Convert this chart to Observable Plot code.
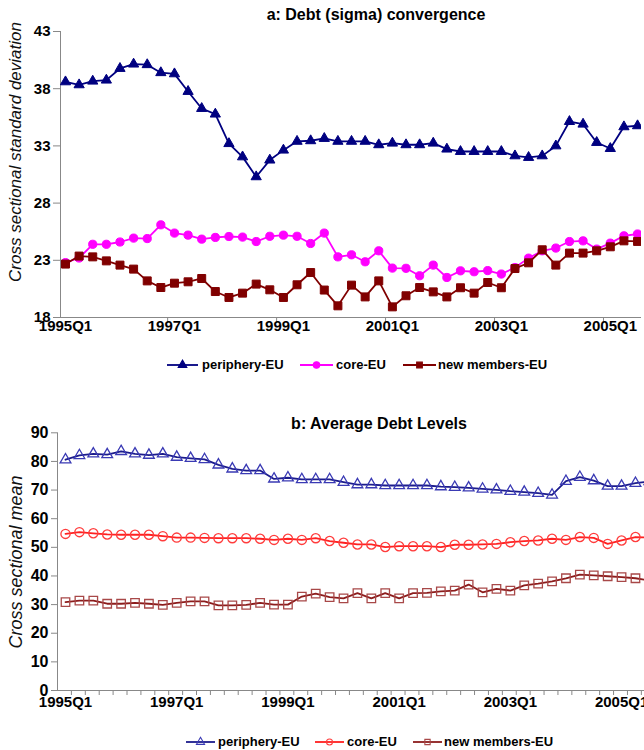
<!DOCTYPE html>
<html>
<head>
<meta charset="utf-8">
<script src="https://cdn.jsdelivr.net/npm/d3@7"></script>
<script src="https://cdn.jsdelivr.net/npm/@observablehq/plot@0.6"></script>
<style>
  html, body { margin: 0; padding: 0; background: #fff; }
  #wrap { position: relative; width: 644px; height: 750px; overflow: hidden; font-family: "Liberation Sans", Arial, sans-serif; }
  .panel { position: absolute; left: 0; }
  .title { position: absolute; font-weight: bold; font-size: 16px; color: #000; white-space: nowrap; transform: translateX(-50%); }
  .ylab { position: absolute; font-style: italic; color: #111; white-space: nowrap; transform: translate(-50%, -50%) rotate(-90deg); }
  .leg { position: absolute; font-weight: bold; font-size: 13px; color: #000; white-space: nowrap; }
</style>
</head>
<body>
<div id="wrap"></div>
<script>
// ---------- data ----------
const quarters = [
  "1995Q1","1995Q2","1995Q3","1995Q4","1996Q1","1996Q2","1996Q3","1996Q4",
  "1997Q1","1997Q2","1997Q3","1997Q4","1998Q1","1998Q2","1998Q3","1998Q4",
  "1999Q1","1999Q2","1999Q3","1999Q4","2000Q1","2000Q2","2000Q3","2000Q4",
  "2001Q1","2001Q2","2001Q3","2001Q4","2002Q1","2002Q2","2002Q3","2002Q4",
  "2003Q1","2003Q2","2003Q3","2003Q4","2004Q1","2004Q2","2004Q3","2004Q4",
  "2005Q1","2005Q2","2005Q3"
];
const seriesNames = ["periphery-EU", "core-EU", "new members-EU"];
const xTickLabels = ["1995Q1","1997Q1","1999Q1","2001Q1","2003Q1","2005Q1"];
const sigmaTicks = [18, 23, 28, 33, 38, 43];
const meanTicks = [0, 10, 20, 30, 40, 50, 60, 70, 80, 90];

// a: cross sectional standard deviation
const sigmaPeriphery = [38.6,38.34,38.66,38.75,39.77,40.15,40.1,39.4,39.3,37.76,36.27,35.78,33.2,32.04,30.3,31.76,32.63,33.4,33.45,33.65,
  33.4,33.4,33.4,33.1,33.24,33.1,33.1,33.24,32.72,32.51,32.51,32.51,32.51,32.13,31.99,32.13,33.0,35.13,34.9,33.3,32.77,34.67,34.76];
const sigmaCore = [22.8,23.2,24.4,24.4,24.6,24.94,24.9,26.1,25.38,25.2,24.85,25.0,25.08,25.03,24.64,25.1,25.2,25.1,24.47,25.38,
  23.3,23.48,22.87,23.83,22.32,22.3,21.65,22.58,21.5,22.08,22.0,22.1,21.8,22.37,23.19,23.83,24.07,24.64,24.7,23.98,24.5,25.14,25.3];
const sigmaNew = [22.67,23.37,23.3,22.95,22.58,22.23,21.2,20.62,21.0,21.12,21.41,20.27,19.75,20.13,20.92,20.42,19.75,20.86,21.93,20.4,
  19.02,20.83,19.8,21.2,18.93,19.9,20.62,20.24,19.8,20.6,20.13,21.06,20.6,22.28,22.78,23.92,22.58,23.63,23.63,23.83,24.18,24.7,24.65];

// b: cross sectional mean
const meanPeriphery = [80.6,82.1,82.65,82.4,83.5,82.65,82.2,82.65,81.5,81.1,80.7,78.8,77.4,76.8,76.8,73.9,74.3,73.7,73.7,73.7,
  72.75,71.9,71.9,71.6,71.6,71.6,71.6,71.2,71.0,70.8,70.4,70.1,69.6,69.3,68.9,68.3,73.1,74.5,73.3,71.4,71.4,72.4,73.0];
const meanCore = [54.7,55.3,54.9,54.5,54.4,54.4,54.4,53.9,53.4,53.4,53.3,53.2,53.2,53.2,53.0,52.6,53.0,52.6,53.2,52.2,
  51.6,51.0,51.0,50.1,50.4,50.4,50.4,50.1,50.9,50.9,51.0,51.2,51.8,52.2,52.4,53.0,52.6,53.6,53.3,51.2,52.4,53.6,53.4];
const meanNew = [30.85,31.4,31.4,30.3,30.3,30.6,30.3,29.9,30.6,31.1,31.1,29.7,29.7,29.9,30.6,30.0,30.0,32.8,33.8,32.6,
  32.2,34.0,32.2,34.0,32.2,34.0,34.1,34.6,34.9,37.0,34.3,35.5,34.9,36.7,37.3,38.1,39.2,40.5,40.2,39.9,39.6,39.2,38.4];

// ---------- styles ----------
const styleA = [
  {name: seriesNames[0], values: sigmaPeriphery, line: "#000080", mark: "#000080", symbol: "triangle", r: 3.8, fill: true},
  {name: seriesNames[1], values: sigmaCore, line: "#ff00ff", mark: "#ff00ff", symbol: "circle", r: 4.1, fill: true},
  {name: seriesNames[2], values: sigmaNew, line: "#800000", mark: "#800000", symbol: "square", r: 4.5, fill: true}
];
const styleB = [
  {name: seriesNames[0], values: meanPeriphery, line: "#1c1c8c", mark: "#3a3ab4", symbol: "triangle", r: 4.0, fill: false},
  {name: seriesNames[1], values: meanCore, line: "#ff2020", mark: "#ff3c3c", symbol: "circle", r: 4.6, fill: false},
  {name: seriesNames[2], values: meanNew, line: "#8c1c1c", mark: "#a84848", symbol: "square", r: 4.8, fill: false}
];

const toRows = s => s.values.map((v, i) => ({i, v}));
const font = '"Liberation Sans", Arial, sans-serif';

function seriesMarks(styles) {
  const marks = [];
  for (const s of styles) {
    const rows = toRows(s);
    marks.push(Plot.line(rows, {x: "i", y: "v", stroke: s.line, strokeWidth: 1.8, clip: true}));
    marks.push(Plot.dot(rows, {x: "i", y: "v", symbol: () => s.symbol, r: s.r,
      fill: s.fill ? s.mark : "white", fillOpacity: s.fill ? 1 : 0, stroke: s.mark, strokeWidth: s.fill ? 1 : 1.3, clip: true}));
  }
  return marks;
}

const labelIdx = xTickLabels.map(l => quarters.indexOf(l));

// ---------- panel a ----------
const xA = [-0.367, 42.29];
const tickMarksA = labelIdx.filter(i => i > 0).map(i => i - 0.5);
const plotA = Plot.plot({
  width: 644, height: 345,
  marginTop: 31, marginBottom: 28, marginLeft: 60, marginRight: 3,
  style: {fontFamily: font, background: "transparent"},
  x: {domain: xA, axis: null},
  y: {domain: [18, 43], axis: null},
  marks: [
    Plot.ruleX([xA[0]], {stroke: "#888", strokeWidth: 1}),
    Plot.ruleY([18], {stroke: "#888", strokeWidth: 1}),
    Plot.axisY({ticks: sigmaTicks, tickSize: 7, tickPadding: 3, stroke: "#888", fill: "#000",
      fontSize: 15, fontWeight: "bold", label: null}),
    Plot.axisX({ticks: tickMarksA, tickSize: 6, stroke: "#888", tickFormat: () => "", label: null}),
    Plot.axisX({ticks: labelIdx, tickSize: 0, tickPadding: 3, fill: "#000",
      tickFormat: i => quarters[i], fontSize: 15, fontWeight: "bold", label: null}),
    ...seriesMarks(styleA)
  ]
});

// ---------- panel b ----------
const xB = [-0.576, 41.65];
const tickMarksB = quarters.map((q, i) => i - 0.576).filter(t => t > xB[0] + 0.1);
const plotB = Plot.plot({
  width: 644, height: 320,
  marginTop: 32.3, marginBottom: 30, marginLeft: 57, marginRight: 0,
  style: {fontFamily: font, background: "transparent"},
  x: {domain: xB, axis: null},
  y: {domain: [0, 90], axis: null},
  marks: [
    Plot.ruleX([xB[0]], {stroke: "#888", strokeWidth: 1}),
    Plot.ruleY([0], {stroke: "#888", strokeWidth: 1}),
    Plot.axisY({ticks: meanTicks, tickSize: 6, tickPadding: 3, stroke: "#888", fill: "#000",
      fontSize: 16, fontWeight: "bold", label: null}),
    Plot.axisX({ticks: tickMarksB, tickSize: 5, stroke: "#888", tickFormat: () => "", label: null}),
    Plot.axisX({ticks: labelIdx, tickSize: 0, tickPadding: 6, fill: "#000",
      tickFormat: i => quarters[i], fontSize: 15, fontWeight: "bold", label: null}),
    ...seriesMarks(styleB)
  ]
});

// ---------- assemble ----------
const wrap = document.getElementById("wrap");
plotA.classList.add("panel"); plotA.style.top = "0px";
plotB.classList.add("panel"); plotB.style.top = "400px";
wrap.appendChild(plotA);
wrap.appendChild(plotB);

function addDiv(cls, text, css) {
  const d = document.createElement("div");
  d.className = cls; d.textContent = text;
  Object.assign(d.style, css);
  wrap.appendChild(d);
  return d;
}
addDiv("title", "a: Debt (sigma) convergence", {left: "376px", top: "6px"});
addDiv("title", "b: Average Debt Levels", {left: "379px", top: "415px"});
addDiv("ylab", "Cross sectional standard deviation", {left: "16px", top: "152px", fontSize: "17px"});
addDiv("ylab", "Cross sectional mean", {left: "16px", top: "562px", fontSize: "18px"});

// legend swatch
function swatch(s, x, yc, w) {
  const svg = d3.create("svg").attr("width", w + 10).attr("height", 14)
    .style("position", "absolute").style("left", (x - 5) + "px").style("top", (yc - 7) + "px");
  svg.append("line").attr("x1", 5).attr("x2", 5 + w).attr("y1", 7).attr("y2", 7)
    .attr("stroke", s.line).attr("stroke-width", 1.8);
  const sym = {triangle: d3.symbolTriangle, circle: d3.symbolCircle, square: d3.symbolSquare}[s.symbol];
  const size = s.fill ? Math.PI * 3.2 * 3.2 : Math.PI * 3 * 3;
  svg.append("path").attr("d", d3.symbol(sym, size)()).attr("transform", `translate(${5 + w / 2},7)`)
    .attr("fill", s.fill ? s.mark : "none").attr("stroke", s.mark).attr("stroke-width", 1.1);
  wrap.appendChild(svg.node());
}
const legA = [[167, 31, 202], [300, 33, 336], [403, 33, 438]];
styleA.forEach((s, k) => {
  swatch(s, legA[k][0], 365, legA[k][1]);
  addDiv("leg", s.name, {left: legA[k][2] + "px", top: (365 - 8) + "px"});
});
const legB = [[186, 29, 218], [315, 29, 347], [413, 29, 444]];
styleB.forEach((s, k) => {
  swatch(s, legB[k][0], 742, legB[k][1]);
  addDiv("leg", s.name, {left: legB[k][2] + "px", top: (742 - 8) + "px"});
});
</script>
</body>
</html>
